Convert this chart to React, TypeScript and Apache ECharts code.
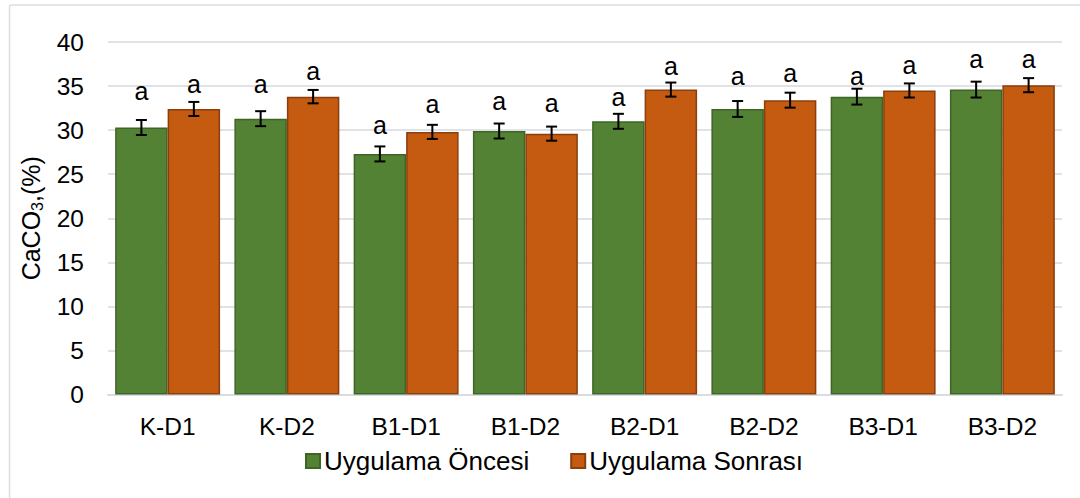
import React, { useEffect, useRef } from "react";
import * as echarts from "echarts";

const categories = ["K-D1", "K-D2", "B1-D1", "B1-D2", "B2-D1", "B2-D2", "B3-D1", "B3-D2"];
const seriesNames = ["Uygulama Öncesi", "Uygulama Sonrası"];
const before = [30.3, 31.3, 27.3, 29.9, 31.0, 32.4, 33.8, 34.6];
const after = [32.4, 33.8, 29.8, 29.6, 34.6, 33.4, 34.5, 35.1];
const errBefore = [0.85, 0.85, 0.85, 0.85, 0.85, 0.9, 0.9, 0.9];
const errAfter = [0.8, 0.76, 0.8, 0.8, 0.8, 0.85, 0.8, 0.8];
const lettersBefore = ["a", "a", "a", "a", "a", "a", "a", "a"];
const lettersAfter = ["a", "a", "a", "a", "a", "a", "a", "a"];
const letterYBefore = [34.2, 35.0, 30.3, 33.1, 33.5, 35.9, 35.9, 37.8];
const letterYAfter = [35.0, 36.45, 32.7, 32.9, 37.1, 36.3, 37.2, 37.8];
const yTicks = { min: 0, max: 40, interval: 5 };

const FONT = "'Liberation Sans', Arial, sans-serif";
const CAT_GAP = 0.12;

function errorRender(side: number) {
  return (params: any, api: any) => {
    const idx = api.value(0);
    const v = api.value(1);
    const e = api.value(2);
    const band = api.size([1, 0])[0];
    const bw = (band * (1 - CAT_GAP)) / 2;
    const c = api.coord([idx, v]);
    const x = c[0] + (side * bw) / 2;
    const top = api.coord([idx, v + e])[1];
    const bot = api.coord([idx, v - e])[1];
    const cap = 5.5;
    const style = { stroke: "#000", lineWidth: 2 };
    return {
      type: "group",
      children: [
        { type: "line", shape: { x1: x, y1: top, x2: x, y2: bot }, style },
        { type: "line", shape: { x1: x - cap, y1: top, x2: x + cap, y2: top }, style },
        { type: "line", shape: { x1: x - cap, y1: bot, x2: x + cap, y2: bot }, style },
      ],
    };
  };
}

function letterRender(side: number, letters: string[]) {
  return (params: any, api: any) => {
    const idx = api.value(0);
    const v = api.value(1);
    const band = api.size([1, 0])[0];
    const bw = (band * (1 - CAT_GAP)) / 2;
    const c = api.coord([idx, v]);
    const x = c[0] + (side * bw) / 2;
    return {
      type: "text",
      x,
      y: c[1] - 2,
      style: {
        text: letters[params.dataIndex],
        fontSize: 25,
        fontFamily: FONT,
        fill: "#000",
        align: "center",
        verticalAlign: "middle",
      },
    };
  };
}

export default function App() {
  const ref = useRef<HTMLDivElement>(null);
  useEffect(() => {
    if (!ref.current) return;
    const chart = echarts.init(ref.current, undefined, { renderer: "svg" });
    chart.setOption({
      animation: false,
      backgroundColor: "#fff",
      textStyle: { fontFamily: FONT },
      graphic: [
        {
          type: "rect",
          left: 7,
          top: 2.5,
          shape: { width: 1080, height: 494, r: 2 },
          style: { fill: "none", stroke: "#d9dde3", lineWidth: 1.5 },
          silent: true,
        },
      ],
      grid: { left: 108, right: 18, top: 42, bottom: 103.5 },
      legend: {
        left: 300,
        top: 443,
        itemWidth: 14,
        itemHeight: 14,
        itemGap: 41,
        icon: "rect",
        data: seriesNames,
        textStyle: { fontSize: 26, color: "#000", fontFamily: FONT, padding: [0, 0, 0, -1] },
      },
      xAxis: {
        type: "category",
        data: categories,
        axisTick: { show: false },
        axisLine: { lineStyle: { color: "#d9dde3", width: 2 } },
        axisLabel: { fontSize: 24.5, color: "#000", margin: 19, fontFamily: FONT },
      },
      yAxis: {
        type: "value",
        min: yTicks.min,
        max: yTicks.max,
        interval: yTicks.interval,
        axisLine: { show: false },
        axisTick: { show: false },
        splitLine: { lineStyle: { color: "#dfe3e8", width: 2 } },
        axisLabel: { fontSize: 24.5, color: "#000", margin: 24, fontFamily: FONT },
        name: "{n|CaCO}{sub|3}{n|,(%)}",
        nameLocation: "middle",
        nameRotate: 90,
        nameGap: 59,
        nameTextStyle: {
          fontSize: 25,
          color: "#000",
          fontFamily: FONT,
          rich: {
            n: { fontSize: 25, lineHeight: 30, fontFamily: FONT, color: "#000" },
            sub: { fontSize: 16, lineHeight: 16, verticalAlign: "bottom", fontFamily: FONT, color: "#000" },
          },
        },
      },
      series: [
        {
          name: seriesNames[0],
          type: "bar",
          data: before,
          barGap: "0%",
          barCategoryGap: "12%",
          itemStyle: { color: "#548235", borderColor: "#3e6426", borderWidth: 1.5 },
        },
        {
          name: seriesNames[1],
          type: "bar",
          data: after,
          barGap: "0%",
          barCategoryGap: "12%",
          itemStyle: { color: "#c55a11", borderColor: "#8a3f0d", borderWidth: 1.5 },
        },
        {
          type: "custom",
          renderItem: errorRender(-1),
          data: before.map((v, i) => [i, v, errBefore[i]]),
          encode: { x: 0, y: 1 },
          z: 5,
          silent: true,
        },
        {
          type: "custom",
          renderItem: errorRender(1),
          data: after.map((v, i) => [i, v, errAfter[i]]),
          encode: { x: 0, y: 1 },
          z: 5,
          silent: true,
        },
        {
          type: "custom",
          renderItem: letterRender(-1, lettersBefore),
          data: letterYBefore.map((v, i) => [i, v]),
          encode: { x: 0, y: 1 },
          z: 6,
          silent: true,
        },
        {
          type: "custom",
          renderItem: letterRender(1, lettersAfter),
          data: letterYAfter.map((v, i) => [i, v]),
          encode: { x: 0, y: 1 },
          z: 6,
          silent: true,
        },
      ],
    });
    return () => chart.dispose();
  }, []);
  return (
    <div
      ref={ref}
      style={{ position: "absolute", left: 0, top: 0, width: 1080, height: 498 }}
    />
  );
}
